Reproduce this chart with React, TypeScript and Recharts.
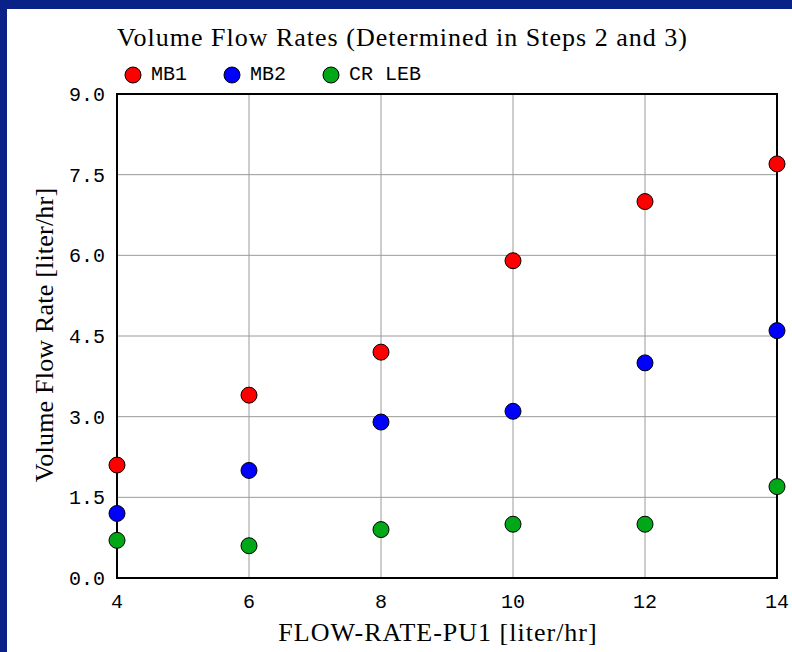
import React from 'react';
import { ScatterChart, Scatter, XAxis, YAxis, CartesianGrid, ReferenceArea } from 'recharts';

const flowRatePU1 = [4, 6, 8, 10, 12, 14];
const mb1 = [2.1, 3.4, 4.2, 5.9, 7.0, 7.7];
const mb2 = [1.2, 2.0, 2.9, 3.1, 4.0, 4.6];
const crLeb = [0.7, 0.6, 0.9, 1.0, 1.0, 1.7];

const xTicks = [4, 6, 8, 10, 12, 14];
const yTicks = [0, 1.5, 3, 4.5, 6, 7.5, 9];

const series = [
  { name: 'MB1', values: mb1, color: '#ff0000' },
  { name: 'MB2', values: mb2, color: '#0000ff' },
  { name: 'CR LEB', values: crLeb, color: '#00a818' },
];

const serif = '"Liberation Serif", "DejaVu Serif", serif';
const mono = '"Liberation Mono", "DejaVu Sans Mono", monospace';

const Dot = (props: any) => {
  const { cx, cy, fill } = props;
  if (cx == null || cy == null) return null;
  return <circle cx={cx} cy={cy} r={8} fill={fill} stroke="#000" strokeWidth={1} />;
};

export default function App() {
  return (
    <div style={{ position: 'fixed', left: 0, top: 0, width: 792, height: 652, background: '#0a2288' }}>
      <div style={{ position: 'absolute', left: 7, top: 9, width: 785, height: 643, background: '#ffffff' }}>
        <div
          style={{
            position: 'absolute', left: 0, width: 785, top: 16, textAlign: 'center',
            fontFamily: serif, fontSize: 26, lineHeight: '26px', letterSpacing: 1, color: '#000',
            paddingLeft: 6, boxSizing: 'border-box', whiteSpace: 'nowrap',
          }}
        >
          Volume Flow Rates (Determined in Steps 2 and 3)
        </div>
        <div style={{ position: 'absolute', left: 117, top: 56, display: 'flex', fontFamily: mono, fontSize: 20 }}>
          {series.map((s) => (
            <div key={s.name} style={{ display: 'flex', alignItems: 'center', width: 99 }}>
              <svg width={18} height={18} style={{ marginRight: 9 }}>
                <circle cx={9} cy={9} r={8} fill={s.color} stroke="#000" strokeWidth={1} />
              </svg>
              <span style={{ lineHeight: '20px' }}>{s.name}</span>
            </div>
          ))}
        </div>
        <ScatterChart width={785} height={643} margin={{ top: 85, right: 15, left: 0, bottom: 0 }}>
          <CartesianGrid stroke="#9a9a9a" strokeWidth={1} />
          <XAxis
            type="number"
            dataKey="x"
            domain={[4, 14]}
            ticks={xTicks}
            height={74}
            axisLine={false}
            tickLine={false}
            tickMargin={10}
            tick={{ fill: '#000', fontSize: 20, fontFamily: mono }}
          />
          <YAxis
            type="number"
            dataKey="y"
            domain={[0, 9]}
            ticks={yTicks}
            width={110}
            axisLine={false}
            tickLine={false}
            tickMargin={6}
            tickFormatter={(v: number) => v.toFixed(1)}
            tick={{ fill: '#000', fontSize: 20, fontFamily: mono }}
          />
          <ReferenceArea x1={4} x2={14} y1={0} y2={9} fill="none" stroke="#000" strokeWidth={2} ifOverflow="visible" />
          {series.map((s) => (
            <Scatter
              key={s.name}
              name={s.name}
              data={flowRatePU1.map((x, i) => ({ x, y: s.values[i] }))}
              fill={s.color}
              shape={<Dot />}
              isAnimationActive={false}
            />
          ))}
        </ScatterChart>
        <div
          style={{
            position: 'absolute', left: 101, width: 660, top: 611, textAlign: 'center',
            fontFamily: serif, fontSize: 26, lineHeight: '26px', letterSpacing: 1, color: '#000', whiteSpace: 'nowrap',
          }}
        >
          FLOW-RATE-PU1 [liter/hr]
        </div>
        <div style={{ position: 'absolute', left: 38, top: 326, width: 0, height: 0 }}>
          <div
            style={{
              position: 'absolute', left: -200, top: -13, width: 400, textAlign: 'center',
              transform: 'rotate(-90deg)', fontFamily: serif, fontSize: 26, lineHeight: '26px',
              letterSpacing: 0.2, color: '#000', whiteSpace: 'nowrap',
            }}
          >
            Volume Flow Rate [liter/hr]
          </div>
        </div>
      </div>
    </div>
  );
}
